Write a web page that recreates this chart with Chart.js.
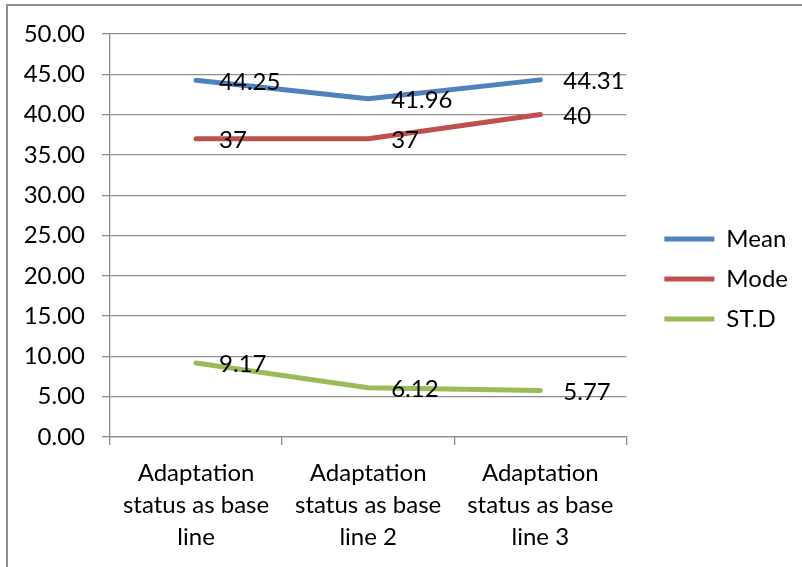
<!DOCTYPE html>
<html>
<head>
<meta charset="utf-8">
<script src="https://cdn.jsdelivr.net/npm/chart.js@4"></script>
<style>
  html, body { margin:0; padding:0; background:#fff; width:802px; height:567px; overflow:hidden; }
  #frame { position:absolute; left:6px; top:4px; width:900px; height:700px; border:2px solid #8e8e8e; box-sizing:border-box; }
  #c { position:absolute; left:0; top:0; }
</style>
</head>
<body>
<div id="frame"></div>
<canvas id="c" width="802" height="567"></canvas>
<script>
const categories = [
  ["Adaptation", "status as base", "line"],
  ["Adaptation", "status as base", "line 2"],
  ["Adaptation", "status as base", "line 3"]
];
const seriesNames = ["Mean", "Mode", "ST.D"];
const meanValues = [44.25, 41.96, 44.31];
const modeValues = [37, 37, 40];
const stdValues = [9.17, 6.12, 5.77];
const yMin = 0, yMax = 50, yStep = 5;

const FONT = "Lato, 'Liberation Sans', Arial, sans-serif";
Chart.defaults.font.family = FONT;
Chart.defaults.font.size = 24;
Chart.defaults.color = '#000';

const GRID = '#8c8c8c';
const colors = ['#4F81BD', '#C0504D', '#9BBB59'];

const dataLabels = {
  id: 'dataLabels',
  afterDatasetsDraw(chart) {
    const ctx = chart.ctx;
    ctx.save();
    ctx.font = '24px ' + FONT;
    ctx.fillStyle = '#000';
    ctx.textAlign = 'left';
    ctx.textBaseline = 'middle';
    chart.data.datasets.forEach((ds, i) => {
      const meta = chart.getDatasetMeta(i);
      meta.data.forEach((pt, j) => {
        ctx.fillText(String(ds.data[j]), pt.x + 23, pt.y + 1.5);
      });
    });
    ctx.restore();
  }
};

const legendShift = {
  id: 'legendShift',
  afterLayout(chart) {
    const L = chart.legend;
    if (!L) return;
    L.left += 22; L.right += 22;
    L.top = 0; L.bottom = 558; L.height = 558;
  }
};

new Chart(document.getElementById('c'), {
  type: 'line',
  data: {
    labels: categories,
    datasets: [
      { label: seriesNames[0], data: meanValues, borderColor: colors[0], backgroundColor: colors[0] },
      { label: seriesNames[1], data: modeValues, borderColor: colors[1], backgroundColor: colors[1] },
      { label: seriesNames[2], data: stdValues, borderColor: colors[2], backgroundColor: colors[2] }
    ]
  },
  options: {
    responsive: false,
    animation: false,
    devicePixelRatio: 1,
    layout: { padding: { top: 34, left: 0, bottom: 0, right: 26 } },
    elements: {
      line: { borderWidth: 5, tension: 0, borderCapStyle: 'round', borderJoinStyle: 'round' },
      point: { radius: 0, hoverRadius: 0 }
    },
    plugins: {
      tooltip: { enabled: false },
      legend: {
        position: 'right',
        align: 'center',
        labels: {
          boxWidth: 50,
          boxHeight: 5,
          padding: 16,
          color: '#000',
          font: { size: 24, family: FONT },
          generateLabels(chart) {
            return chart.data.datasets.map((ds, i) => ({
              text: ds.label,
              fillStyle: ds.borderColor,
              strokeStyle: ds.borderColor,
              lineWidth: 0,
              hidden: false,
              datasetIndex: i
            }));
          }
        }
      }
    },
    scales: {
      x: {
        offset: true,
        grid: { offset: true, drawOnChartArea: false, drawTicks: true, tickLength: 8, color: GRID, lineWidth: 1.3 },
        border: { display: true, color: GRID, width: 1.3 },
        ticks: { padding: 12, maxRotation: 0, autoSkip: false, font: { size: 24, lineHeight: 1.34 }, color: '#000' },
        afterFit(scale) { scale.height = 130; }
      },
      y: {
        min: yMin, max: yMax,
        grid: { color: GRID, lineWidth: 1.3, tickLength: 8 },
        border: { display: true, color: GRID, width: 1.3 },
        ticks: { stepSize: yStep, padding: 17, color: '#000', callback: v => Number(v).toFixed(2) },
        afterFit(scale) { scale.width = 110; }
      }
    }
  },
  plugins: [dataLabels, legendShift]
});
</script>
</body>
</html>
